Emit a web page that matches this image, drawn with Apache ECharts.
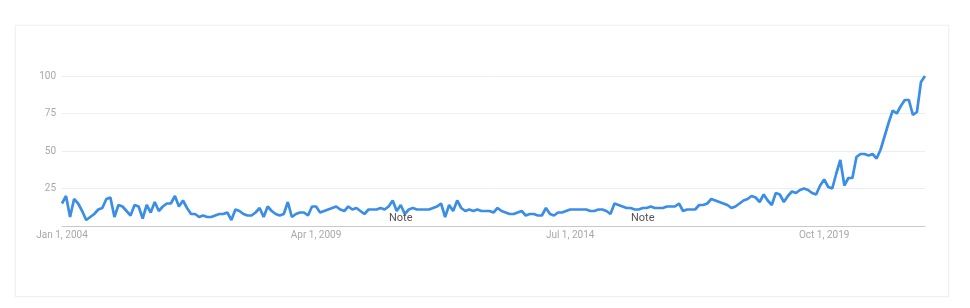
<!DOCTYPE html>
<html>
<head>
<meta charset="utf-8">
<script src="https://cdn.jsdelivr.net/npm/echarts@6/dist/echarts.min.js"></script>
<style>
  html, body { margin: 0; padding: 0; background: #ffffff; }
  #card { position: absolute; left: 15px; top: 25px; width: 932px; height: 270px;
          border: 1px solid #f1f1f1; box-shadow: 0 0 2px rgba(0,0,0,0.06); background: #fff; }
  #chart { position: absolute; left: 0; top: 0; width: 970px; height: 308px; }
</style>
</head>
<body>
<div id="card"></div>
<div id="chart"></div>
<script>
// Monthly interest, Jan 2004 onward
const values2004to2008 = [15,20,6,18,15,10,4,6,8,11,12,18,19,6,14,13,10,7,14,13,5,14,9,16,10,13,15,15,20,13,17,12,8,8,6,7,6,6,7,8,8,9,4,11,10,8,7,7,9,12,6,13,10,8,7,8,16,6,8,9];
const values2009to2013 = [9,7,13,13,9,10,11,12,13,11,10,13,11,12,10,8,11,11,11,12,11,13,17,10,14,8,11,12,11,11,11,11,12,13,15,6,14,10,17,12,10,11,10,11,10,10,10,9,12,10,9,8,8,9,10,7,8,8,7,7];
const values2014to2018 = [12,8,7,9,9,10,11,11,11,11,11,10,10,11,11,10,8,15,14,13,12,12,11,11,12,12,13,12,12,12,13,13,13,15,10,11,11,11,14,14,15,18,17,16,15,14,12,13,15,17,18,20,19,16,21,17,14,22,21,16];
const values2019to2021 = [20,23,22,24,25,24,22,21,27,31,26,25,35,44,27,32,32,46,48,48,47,48,45,51,60,69,77,75,80,84,84,74,76,96,100];
const monthNames = ['Jan','Feb','Mar','Apr','May','Jun','Jul','Aug','Sep','Oct','Nov','Dec'];
const startYear = 2004;
const yTicks = [0, 25, 50, 75, 100];
const noteMonths = ['Jan 1, 2011', 'Jan 1, 2016'];

const values = [].concat(values2004to2008, values2009to2013, values2014to2018, values2019to2021);
const categories = values.map((v, i) => monthNames[i % 12] + ' 1, ' + (startYear + Math.floor(i / 12)));

const chart = echarts.init(document.getElementById('chart'), null, { renderer: 'canvas' });
chart.setOption({
  animation: false,
  grid: { left: 62, right: 45, top: 76, bottom: 82 },
  xAxis: {
    type: 'category',
    data: categories,
    boundaryGap: false,
    axisLine: { lineStyle: { color: '#c9c9c9', width: 1 } },
    axisTick: { show: false },
    axisLabel: { interval: 62, color: '#a8a8a8', fontSize: 10, fontFamily: 'Roboto', margin: 4 },
    splitLine: { show: false }
  },
  yAxis: {
    type: 'value',
    min: yTicks[0], max: yTicks[yTicks.length - 1], interval: 25,
    axisLine: { show: false },
    axisTick: { show: false },
    axisLabel: { color: '#a8a8a8', fontSize: 10, fontFamily: 'Roboto', margin: 6,
                 formatter: v => (v === 0 ? '' : String(v)) },
    splitLine: { lineStyle: { color: '#ededed', width: 1 } }
  },
  series: [{
    type: 'line',
    data: values,
    showSymbol: false,
    smooth: false,
    lineStyle: { color: '#3b8ee6', width: 2.7 },
    itemStyle: { color: '#3b8ee6' },
    markPoint: {
      symbol: 'circle', symbolSize: 0, silent: true,
      label: { show: true, formatter: 'Note', color: '#555', fontSize: 11, fontFamily: 'Roboto', position: 'inside' },
      data: noteMonths.map(m => ({ coord: [m, 5.5] }))
    }
  }]
});
</script>
</body>
</html>
